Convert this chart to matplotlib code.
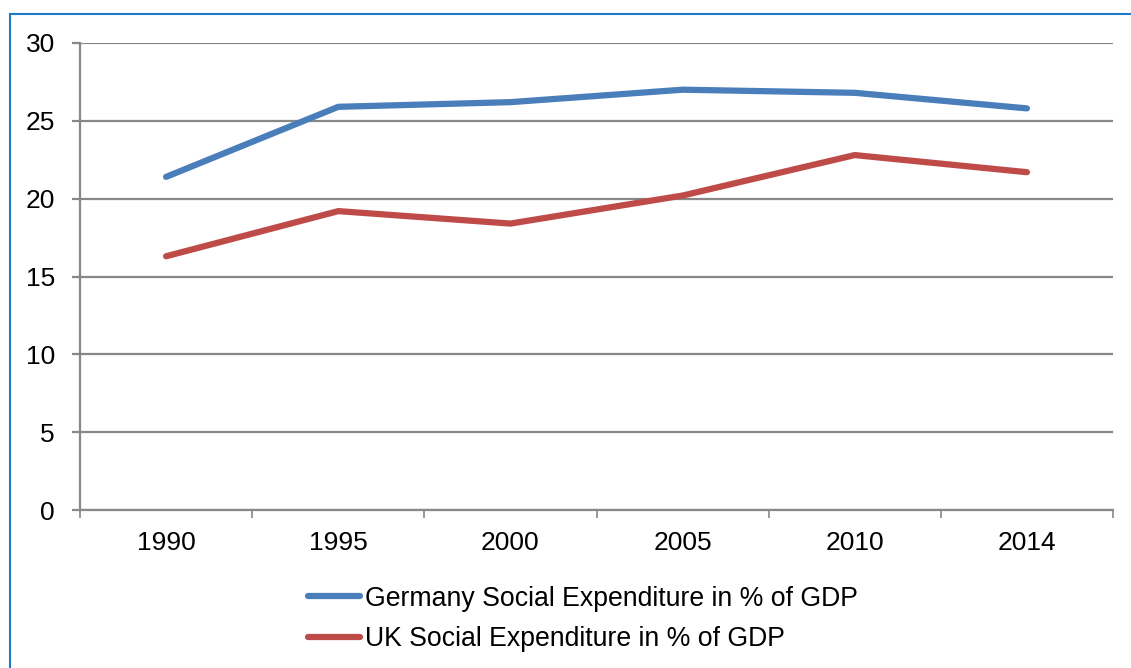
import matplotlib.pyplot as plt
from matplotlib.patches import Rectangle

plt.rcParams['font.family'] = ['Liberation Sans', 'DejaVu Sans']

years = ["1990", "1995", "2000", "2005", "2010", "2014"]
germany = [21.4, 25.9, 26.2, 27.0, 26.8, 25.8]
uk = [16.3, 19.2, 18.4, 20.2, 22.8, 21.7]

W, H = 1131, 668
fig = plt.figure(figsize=(W / 100, H / 100), dpi=100)

# plot area in pixel coords: x 80..1113, y 43..510
ax = fig.add_axes([80 / W, 1 - 510 / H, (1113 - 80) / W, (510 - 43) / H])

grid_col = "#888888"
x = range(len(years))
ax.plot(x, germany, color="#4A7EBB", lw=4.5, solid_capstyle="round",
        label="Germany Social Expenditure in % of GDP", zorder=3)
ax.plot(x, uk, color="#BE4B48", lw=4.5, solid_capstyle="round",
        label="UK Social Expenditure in % of GDP", zorder=3)

ax.set_xlim(-0.5, len(years) - 0.5)
ax.set_ylim(0, 30)
ax.set_yticks(range(0, 31, 5))
ax.yaxis.grid(True, color=grid_col, lw=1.6)
ax.set_axisbelow(True)

# category boundaries get the tick marks, labels sit in the middle
ax.set_xticks([i - 0.5 for i in range(len(years) + 1)])
ax.set_xticklabels([])
ax.set_xticks(list(x), minor=True)
ax.set_xticklabels(years, minor=True)
ax.tick_params(axis="x", which="major", length=6, width=1.2, color=grid_col)
ax.tick_params(axis="x", which="minor", length=0, pad=15, labelsize=19)
ax.tick_params(axis="y", length=6, width=1.6, color=grid_col, pad=12, labelsize=19)

for side in ("top", "right"):
    ax.spines[side].set_visible(False)
for side in ("left", "bottom"):
    ax.spines[side].set_color(grid_col)
    ax.spines[side].set_linewidth(1.6)

fig.legend(loc="upper left", bbox_to_anchor=(297 / W, 1 - 575 / H),
           frameon=False, fontsize=19.2, handlelength=1.98, handletextpad=0.18,
           labelspacing=0.55, borderaxespad=0)

# outer border of the chart, clipped at the right and bottom edges
fig.patches.append(Rectangle((9.5 / W, -0.1), 1.2, 1 - 14.5 / H + 0.1,
                             transform=fig.transFigure, fill=False,
                             edgecolor="#1F7AC8", lw=1.5))

fig.savefig("out.png", dpi=100)
